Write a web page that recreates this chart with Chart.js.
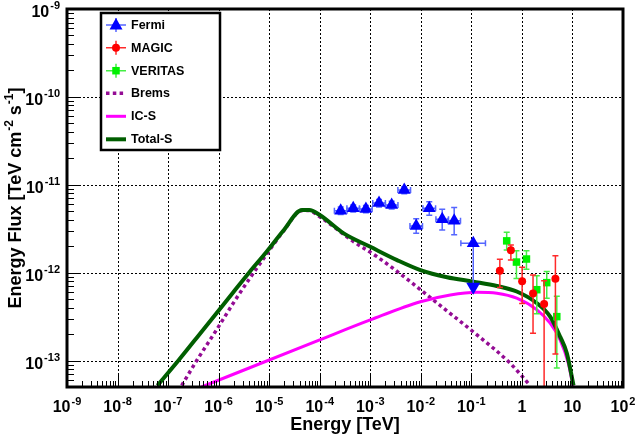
<!DOCTYPE html>
<html><head><meta charset="utf-8">
<script src="https://cdn.jsdelivr.net/npm/chart.js@4/dist/chart.umd.min.js"></script>
<style>html,body{margin:0;padding:0;background:#fff}canvas{display:block}</style>
</head><body>
<canvas id="c" width="635" height="443"></canvas>
<script>
const FONT = "'Liberation Sans', Arial, Helvetica, sans-serif";

// ---------- data ----------
const fermiE   = [2.6e-4, 4.6e-4, 8.2e-4, 1.49e-3, 2.65e-3, 4.7e-3, 8.1e-3, 1.47e-2, 2.65e-2, 4.57e-2, 0.109];
const fermiF   = [5.07e-12, 5.4e-12, 5.3e-12, 6.2e-12, 5.9e-12, 8.7e-12, 3.4e-12, 5.4e-12, 4.05e-12, 3.9e-12, 2.16e-12];
const fermiELo = [1.95e-4, 3.45e-4, 6.15e-4, 1.12e-3, 1.99e-3, 3.52e-3, 6.1e-3, 1.1e-2, 1.99e-2, 3.43e-2, 0.062];
const fermiEHi = [3.47e-4, 6.1e-4, 1.09e-3, 1.99e-3, 3.53e-3, 6.27e-3, 1.08e-2, 1.96e-2, 3.53e-2, 6.1e-2, 0.19];
const fermiFLo = [4.6e-12, 4.9e-12, 4.8e-12, 5.6e-12, 5.3e-12, 7.9e-12, 2.8e-12, 4.5e-12, 3.05e-12, 2.7e-12, null];
const fermiFHi = [5.6e-12, 5.9e-12, 5.8e-12, 6.8e-12, 6.5e-12, 9.5e-12, 4.1e-12, 6.4e-12, 5.25e-12, 5.5e-12, null];
const fermiUpperLimitIndex = 10;
const fermiUpperLimitTip = 5.6e-13;

const magicE   = [0.366, 0.605, 1.01, 1.66, 2.75, 4.6];
const magicF   = [1.05e-12, 1.8e-12, 8.0e-13, 5.8e-13, 4.4e-13, 8.5e-13];
const magicFLo = [6.8e-13, 1.39e-12, 4.47e-13, 2.04e-13, 1e-14, 1.19e-13];
const magicFHi = [1.42e-12, 2.07e-12, 1.15e-12, 9.4e-13, 8.1e-13, 1.56e-12];

const veritasE   = [0.5, 0.78, 1.23, 1.97, 3.1, 4.9];
const veritasF   = [2.3e-12, 1.32e-12, 1.43e-12, 6.4e-13, 7.7e-13, 3.16e-13];
const veritasFLo = [1.81e-12, 8.6e-13, 1.09e-12, 3.4e-13, 5.1e-13, 8.2e-14];
const veritasFHi = [2.88e-12, 1.78e-12, 1.78e-12, 9.2e-13, 1.03e-12, 5.4e-13];

const totalE = [6.15e-8, 1.6e-7, 4.28e-7, 1.95e-6, 3.99e-6, 8.9e-6, 1.9e-5, 4.47e-5, 6.2e-5, 1.0e-4, 2.98e-4, 1.0e-3, 3.39e-3, 9.8e-3, 3.3e-2, 0.11, 0.32, 0.79, 1.98, 3.62, 5.7, 7.74, 10.5];
const totalF = [5.2e-14, 1.0e-13, 2.02e-13, 6.0e-13, 1.0e-12, 1.73e-12, 3.0e-12, 5.16e-12, 5.16e-12, 4.53e-12, 2.8e-12, 1.97e-12, 1.39e-12, 1.07e-12, 8.87e-13, 7.9e-13, 7.06e-13, 6.1e-13, 4.49e-13, 3.16e-13, 1.87e-13, 1.21e-13, 5.2e-14];

const icE = [4.6e-7, 1.0e-4, 1.0e-3, 9.8e-3, 3.83e-2, 0.129, 0.32, 0.79, 1.98, 3.62, 5.7, 8.3, 10.3];
const icF = [5.0e-14, 1.72e-13, 2.9e-13, 4.67e-13, 5.58e-13, 5.98e-13, 5.83e-13, 5.12e-13, 3.77e-13, 2.66e-13, 1.72e-13, 9.3e-14, 5.0e-14];

const bremsE = [1.86e-7, 3.69e-7, 9.2e-7, 1.95e-6, 4.17e-6, 8.9e-6, 1.9e-5, 4.5e-5, 6.0e-5, 1.0e-4, 4.7e-4, 1.36e-3, 6.2e-3, 2.82e-2, 0.129, 0.587, 1.46];
const bremsF = [5.2e-14, 1.0e-13, 2.26e-13, 4.5e-13, 8.7e-13, 1.62e-12, 2.95e-12, 5.1e-12, 5.1e-12, 4.33e-12, 2.25e-12, 1.52e-12, 7.9e-13, 3.94e-13, 1.96e-13, 9.3e-14, 5.2e-14];

const xTickValues = [1e-9, 1e-8, 1e-7, 1e-6, 1e-5, 1e-4, 1e-3, 1e-2, 1e-1, 1, 10, 100];
const xTickLabels = ['10^-9','10^-8','10^-7','10^-6','10^-5','10^-4','10^-3','10^-2','10^-1','1','10','10^2'];
const yTickValues = [1e-13, 1e-12, 1e-11, 1e-10, 1e-9];
const yTickLabels = ['10^-13','10^-12','10^-11','10^-10','10^-9'];
const xMin = 1e-9, xMax = 100, yMin = 5e-14, yMax = 1e-9;

const legendLabels = ['Fermi', 'MAGIC', 'VERITAS', 'Brems', 'IC-S', 'Total-S'];
const xTitle = 'Energy [TeV]';

// ---------- colours ----------
const C_FERMI = '#0000ff', C_FERMI_ERR = '#5566ff';
const C_MAGIC = '#ff0000', C_MAGIC_ERR = '#ff2a2a';
const C_VER = '#00f000', C_VER_ERR = '#44ee44';
const C_BREMS = '#940c94', C_IC = '#ff00ff', C_TOTAL = '#005e00';

const pts = (xs, ys) => xs.map((v, i) => ({x: v, y: ys[i]}));

function powLabel(ctx, txt, x, y, align, big, small, raise) {
  const parts = txt.split('^');
  ctx.font = 'bold ' + big + 'px ' + FONT;
  const w1 = ctx.measureText(parts[0]).width;
  let w2 = 0;
  if (parts[1]) { ctx.font = 'bold ' + small + 'px ' + FONT; w2 = ctx.measureText(parts[1]).width + 1; }
  const W = w1 + w2;
  let x0 = align === 'center' ? x - W / 2 : (align === 'right' ? x - W : x);
  ctx.textAlign = 'left'; ctx.textBaseline = 'alphabetic';
  ctx.font = 'bold ' + big + 'px ' + FONT;
  ctx.fillText(parts[0], x0, y);
  if (parts[1]) { ctx.font = 'bold ' + small + 'px ' + FONT; ctx.fillText(parts[1], x0 + w1 + 1, y - raise); }
}

function marker(ctx, style, x, y, color) {
  ctx.fillStyle = color;
  ctx.beginPath();
  if (style === 'triangle') { ctx.moveTo(x, y - 7); ctx.lineTo(x + 6.5, y + 4.5); ctx.lineTo(x - 6.5, y + 4.5); ctx.closePath(); }
  else if (style === 'circle') { ctx.arc(x, y, 4, 0, Math.PI * 2); }
  else { ctx.rect(x - 3.75, y - 3.75, 7.5, 7.5); }
  ctx.fill();
}

const rootPlugin = {
  id: 'rootStyle',
  beforeDatasetsDraw(chart) {
    const {ctx, chartArea: a, scales: {x, y}} = chart;
    ctx.save();
    ctx.strokeStyle = '#000'; ctx.lineWidth = 1; ctx.setLineDash([2, 2]);
    xTickValues.forEach(v => {
      const X = Math.round(x.getPixelForValue(v)) + 0.5;
      ctx.beginPath(); ctx.moveTo(X, a.top); ctx.lineTo(X, a.bottom); ctx.stroke();
    });
    yTickValues.forEach(v => {
      const Y = Math.round(y.getPixelForValue(v)) + 0.5;
      ctx.beginPath(); ctx.moveTo(a.left, Y); ctx.lineTo(a.right, Y); ctx.stroke();
    });
    ctx.restore();
  },
  beforeDatasetDraw(chart, args) {
    const ds = chart.data.datasets[args.index];
    if (!ds.err) return;
    const {ctx, chartArea: a, scales: {x, y}} = chart;
    const e = ds.err;
    ctx.save();
    ctx.beginPath(); ctx.rect(a.left, a.top, a.right - a.left, a.bottom - a.top); ctx.clip();
    ctx.strokeStyle = e.color; ctx.lineWidth = 1.5;
    ds.data.forEach((p, i) => {
      const X = x.getPixelForValue(p.x), Y = y.getPixelForValue(p.y);
      if (e.yLo && e.yLo[i] != null) {
        const y1 = y.getPixelForValue(e.yLo[i]), y2 = y.getPixelForValue(e.yHi[i]);
        ctx.beginPath(); ctx.moveTo(X, y1); ctx.lineTo(X, y2);
        ctx.moveTo(X - 3, y1); ctx.lineTo(X + 3, y1);
        ctx.moveTo(X - 3, y2); ctx.lineTo(X + 3, y2);
        ctx.stroke();
      }
      if (e.xLo && e.xLo[i] != null) {
        const x1 = x.getPixelForValue(e.xLo[i]), x2 = x.getPixelForValue(e.xHi[i]);
        ctx.beginPath(); ctx.moveTo(x1, Y); ctx.lineTo(x2, Y);
        ctx.moveTo(x1, Y - 3); ctx.lineTo(x1, Y + 3);
        ctx.moveTo(x2, Y - 3); ctx.lineTo(x2, Y + 3);
        ctx.stroke();
      }
      if (e.ulIndex === i) {
        const yt = y.getPixelForValue(e.ulTip);
        ctx.beginPath(); ctx.moveTo(X, Y); ctx.lineTo(X, yt - 6); ctx.stroke();
        ctx.fillStyle = C_FERMI;
        ctx.beginPath(); ctx.moveTo(X, yt); ctx.lineTo(X - 7, yt - 12); ctx.lineTo(X + 7, yt - 12); ctx.closePath(); ctx.fill();
      }
    });
    ctx.restore();
  },
  afterDatasetsDraw(chart) {
    const {ctx, chartArea: a, scales: {x, y}} = chart;
    ctx.save();
    ctx.setLineDash([]);
    ctx.strokeStyle = '#000'; ctx.fillStyle = '#000';
    // minor / major ticks (inward)
    ctx.lineWidth = 1;
    ctx.beginPath();
    for (let d = -9; d <= 1; d++) {
      for (let k = 1; k <= 9; k++) {
        const v = k * Math.pow(10, d);
        const X = Math.round(x.getPixelForValue(v)) + 0.5;
        const L = k === 1 ? 12 : 6;
        ctx.moveTo(X, a.bottom); ctx.lineTo(X, a.bottom - L);
      }
    }
    for (let d = -14; d <= -10; d++) {
      for (let k = 1; k <= 9; k++) {
        const v = k * Math.pow(10, d);
        if (v < yMin || v > yMax) continue;
        const Y = Math.round(y.getPixelForValue(v)) + 0.5;
        const L = k === 1 ? 13 : 7;
        ctx.moveTo(a.left, Y); ctx.lineTo(a.left + L, Y);
      }
    }
    ctx.stroke();
    // frame
    ctx.lineWidth = 3;
    ctx.strokeRect(a.left, a.top, a.right - a.left, a.bottom - a.top);
    // tick labels
    ctx.fillStyle = '#000';
    xTickValues.forEach((v, i) => {
      powLabel(ctx, xTickLabels[i], x.getPixelForValue(v), a.bottom + 25, 'center', 16, 11, 7.5);
    });
    yTickValues.forEach((v, i) => {
      powLabel(ctx, yTickLabels[i], a.left - 7, y.getPixelForValue(v) + 8, 'right', 16, 11, 8);
    });
    // x title
    ctx.font = 'bold 18px ' + FONT; ctx.textAlign = 'center'; ctx.textBaseline = 'alphabetic';
    ctx.fillText(xTitle, (a.left + a.right) / 2, 430);
    // y title (rotated, with superscripts)
    ctx.save();
    ctx.translate(21, (a.top + a.bottom) / 2);
    ctx.rotate(-Math.PI / 2);
    const segs = [['Energy Flux [TeV cm', 0], ['-2', 1], [' s', 0], ['-1', 1], [']', 0]];
    let total = 0;
    segs.forEach(s => { ctx.font = 'bold ' + (s[1] ? 12 : 18) + 'px ' + FONT; total += ctx.measureText(s[0]).width + (s[1] ? 1 : 0); });
    let cx = -total / 2;
    ctx.textAlign = 'left';
    segs.forEach(s => {
      ctx.font = 'bold ' + (s[1] ? 12 : 18) + 'px ' + FONT;
      ctx.fillText(s[0], cx + (s[1] ? 1 : 0), s[1] ? -8 : 0);
      cx += ctx.measureText(s[0]).width + (s[1] ? 1 : 0);
    });
    ctx.restore();
    // legend
    const L = {left: 101, top: 13, right: 220, bottom: 150};
    ctx.fillStyle = '#fff';
    ctx.fillRect(L.left, L.top, L.right - L.left, L.bottom - L.top);
    ctx.lineWidth = 2.5; ctx.strokeStyle = '#000';
    ctx.strokeRect(L.left, L.top, L.right - L.left, L.bottom - L.top);
    const rowY = [25, 47.7, 70.7, 93.3, 116.3, 139.3];
    const sx1 = 106, sx2 = 126, sxc = 116;
    legendLabels.forEach((lab, i) => {
      const ry = rowY[i];
      ctx.save();
      if (i < 3) {
        const col = [C_FERMI_ERR, C_MAGIC_ERR, C_VER_ERR][i];
        ctx.strokeStyle = col; ctx.lineWidth = 1.5;
        ctx.beginPath(); ctx.moveTo(sx1, ry); ctx.lineTo(sx2, ry); ctx.moveTo(sxc, ry - 7); ctx.lineTo(sxc, ry + 7); ctx.stroke();
        marker(ctx, ['triangle', 'circle', 'rect'][i], sxc, ry, [C_FERMI, C_MAGIC, C_VER][i]);
      } else {
        ctx.strokeStyle = [C_BREMS, C_IC, C_TOTAL][i - 3];
        ctx.lineWidth = [3.5, 3, 4][i - 3];
        if (i === 3) ctx.setLineDash([3.5, 3.3]);
        ctx.beginPath(); ctx.moveTo(sx1, ry); ctx.lineTo(sx2, ry); ctx.stroke();
      }
      ctx.restore();
      ctx.fillStyle = '#000'; ctx.font = 'bold 12.5px ' + FONT; ctx.textAlign = 'left'; ctx.textBaseline = 'middle';
      ctx.fillText(lab, 131, ry + 0.5);
    });
    ctx.restore();
  }
};

new Chart(document.getElementById('c'), {
  type: 'scatter',
  data: {
    datasets: [
      {label: 'Fermi', data: pts(fermiE, fermiF), pointStyle: 'triangle', pointRadius: 7.5, pointHoverRadius: 7.5,
       backgroundColor: C_FERMI, borderColor: C_FERMI, borderWidth: 0, showLine: false,
       err: {color: C_FERMI_ERR, xLo: fermiELo, xHi: fermiEHi, yLo: fermiFLo, yHi: fermiFHi, ulIndex: fermiUpperLimitIndex, ulTip: fermiUpperLimitTip}},
      {label: 'MAGIC', data: pts(magicE, magicF), pointStyle: 'circle', pointRadius: 4, pointHoverRadius: 4,
       backgroundColor: C_MAGIC, borderColor: C_MAGIC, borderWidth: 0, showLine: false,
       err: {color: C_MAGIC_ERR, yLo: magicFLo, yHi: magicFHi}},
      {label: 'VERITAS', data: pts(veritasE, veritasF), pointStyle: 'rect', pointRadius: 5.3, pointHoverRadius: 5.3,
       backgroundColor: C_VER, borderColor: C_VER, borderWidth: 0, showLine: false,
       err: {color: C_VER_ERR, yLo: veritasFLo, yHi: veritasFHi}},
      {label: 'Total-S', data: pts(totalE, totalF), showLine: true, pointRadius: 0, borderColor: C_TOTAL, borderWidth: 4,
       cubicInterpolationMode: 'monotone', fill: false},
      {label: 'IC-S', data: pts(icE, icF), showLine: true, pointRadius: 0, borderColor: C_IC, borderWidth: 3,
       cubicInterpolationMode: 'monotone', fill: false},
      {label: 'Brems', data: pts(bremsE, bremsF), showLine: true, pointRadius: 0, borderColor: C_BREMS, borderWidth: 3.5,
       borderDash: [3.5, 3.3], cubicInterpolationMode: 'monotone', fill: false}
    ]
  },
  options: {
    responsive: false, animation: false, devicePixelRatio: 1,
    layout: {padding: {left: 67, right: 12, top: 9, bottom: 56}},
    plugins: {legend: {display: false}, tooltip: {enabled: false}, title: {display: false}},
    events: [],
    scales: {
      x: {type: 'logarithmic', min: xMin, max: xMax, display: false},
      y: {type: 'logarithmic', min: yMin, max: yMax, display: false}
    }
  },
  plugins: [rootPlugin]
});
</script>
</body></html>
